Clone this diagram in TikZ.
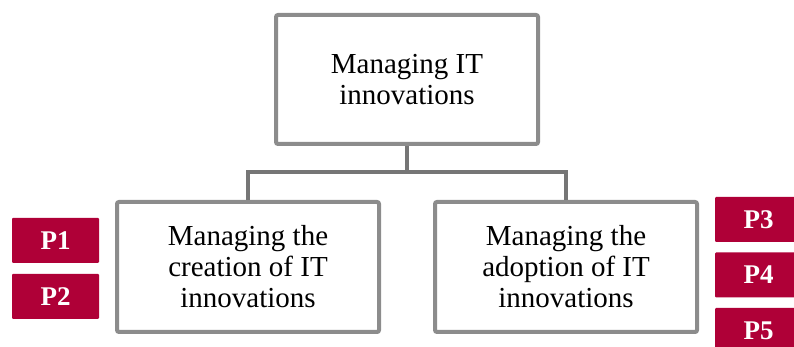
\documentclass[tikz,border=0pt]{standalone}
\usepackage{fontspec}
\setmainfont{Liberation Serif}
\usepackage{tikz}

\definecolor{boxgray}{RGB}{140,140,140}
\definecolor{linkgray}{RGB}{118,118,118}
\definecolor{propred}{RGB}{175,0,55}

\tikzset{
  topic/.style={draw=boxgray, line width=4pt, rounded corners=2pt, fill=white,
    minimum width=262pt, minimum height=130pt, align=center,
    font=\fontsize{29}{31}\selectfont},
  prop/.style={fill=propred, text=white, rounded corners=1pt,
    minimum width=87pt, minimum height=45pt, inner sep=0pt,
    font=\fontsize{27}{27}\selectfont\bfseries},
  link/.style={draw=linkgray, line width=4pt}
}

\begin{document}
\begin{tikzpicture}[x=1pt, y=1pt]
\useasboundingbox (0,0) rectangle (794,347);

%--- Boxes ---
\node[topic, minimum height=129pt] (manage) at (407,267.5) {Managing IT\\innovations};
\node[topic] (creation) at (248,80) {Managing the\\creation of IT\\innovations};
\node[topic] (adoption) at (566,80) {Managing the\\adoption of IT\\innovations};

% Tree connectors
\draw[link] (manage.south) -- ++(0,-26) coordinate (split);
\draw[link] (split) -| (creation.north);
\draw[link] (split) -| (adoption.north);

%--- Propositions ---
\node[prop] (p1) at (55.5,106.5) {P1};
\node[prop] (p2) at (55.5,50.5) {P2};
\node[prop] (p3) at (758.5,127.5) {P3};
\node[prop] (p4) at (758.5,72) {P4};
\node[prop] (p5) at (758.5,16.5) {P5};
\end{tikzpicture}
\end{document}
